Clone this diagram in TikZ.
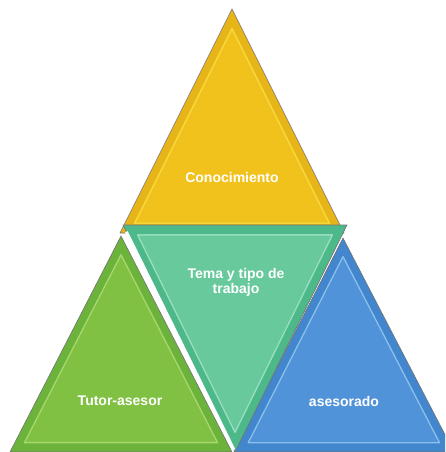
\documentclass[tikz,border=0pt]{standalone}
\usepackage{fontspec}
\setmainfont{Liberation Sans}
\usepackage{xcolor}
\usetikzlibrary{calc}

\definecolor{yelDark}{HTML}{E8B518}
\definecolor{yelMain}{HTML}{F2C21C}
\definecolor{yelLight}{HTML}{F9E24A}
\definecolor{teaDark}{HTML}{4DB98A}
\definecolor{teaMain}{HTML}{68C99C}
\definecolor{teaLight}{HTML}{A8E6CC}
\definecolor{grnDark}{HTML}{6CB33C}
\definecolor{grnMain}{HTML}{80C143}
\definecolor{grnLight}{HTML}{B4DE78}
\definecolor{bluDark}{HTML}{4286CE}
\definecolor{bluMain}{HTML}{5193D8}
\definecolor{bluLight}{HTML}{9CCDF2}

\begin{document}
\begin{tikzpicture}[
        x=1pt, y=-1pt,
        tri/.style={draw=black!55, line width=0.6pt, line join=miter},
        bevel/.style={draw=#1, draw opacity=0.8, line width=1.3pt, line join=round},
        label/.style={text=white, font=\bfseries\fontsize{14}{15}\selectfont, align=center}
    ]
        \useasboundingbox (0,0) rectangle (445,452);
        \clip (0,0) rectangle (445,452);

        % Top triangle
        \coordinate (Y1) at (232,9);
        \coordinate (Y2) at (120,233);
        \coordinate (Y3) at (344,233);
        \coordinate (Yc) at (232,158);
        \filldraw[tri, fill=yelDark] (Y1) -- (Y2) -- (Y3) -- cycle;
        \filldraw[bevel=yelLight, fill=yelMain] ($(Y1)!0.13!(Yc)$) -- ($(Y2)!0.13!(Yc)$) -- ($(Y3)!0.13!(Yc)$) -- cycle;

        % Left triangle
        \coordinate (L1) at (121,236);
        \coordinate (L2) at (10,452);
        \coordinate (L3) at (232,452);
        \coordinate (Lc) at (121,380);
        \filldraw[tri, fill=grnDark] (L1) -- (L2) -- (L3) -- cycle;
        \filldraw[bevel=grnLight, fill=grnMain] ($(L1)!0.13!(Lc)$) -- ($(L2)!0.13!(Lc)$) -- ($(L3)!0.13!(Lc)$) -- cycle;

        % Right triangle
        \coordinate (R1) at (343,238);
        \coordinate (R2) at (234,452);
        \coordinate (R3) at (454,452);
        \coordinate (Rc) at (343,381);
        \filldraw[tri, fill=bluDark] (R1) -- (R2) -- (R3) -- cycle;
        \filldraw[bevel=bluLight, fill=bluMain] ($(R1)!0.13!(Rc)$) -- ($(R2)!0.13!(Rc)$) -- ($(R3)!0.13!(Rc)$) -- cycle;

        % Middle triangle
        \coordinate (M1) at (123,225);
        \coordinate (M2) at (347,225);
        \coordinate (M3) at (235,452);
        \coordinate (Mc) at (235,301);
        \filldraw[tri, fill=teaDark] (M1) -- (M2) -- (M3) -- cycle;
        \filldraw[bevel=teaLight, fill=teaMain] ($(M1)!0.13!(Mc)$) -- ($(M2)!0.13!(Mc)$) -- ($(M3)!0.13!(Mc)$) -- cycle;
        \draw[white, line width=3pt] ($(M1)!0.03!(M3)$) -- ($(M1)!0.99!(M3)$);

        % Labels
        \node[label] (conocimiento) at (232,177) {Conocimiento};
        \node[label] (tema) at (236,282) {Tema y tipo de\\trabajo};
        \node[label] (tutor) at (120,401) {Tutor-asesor};
        \node[label] (asesorado) at (344,401) {asesorado};
    \end{tikzpicture}
\end{document}
